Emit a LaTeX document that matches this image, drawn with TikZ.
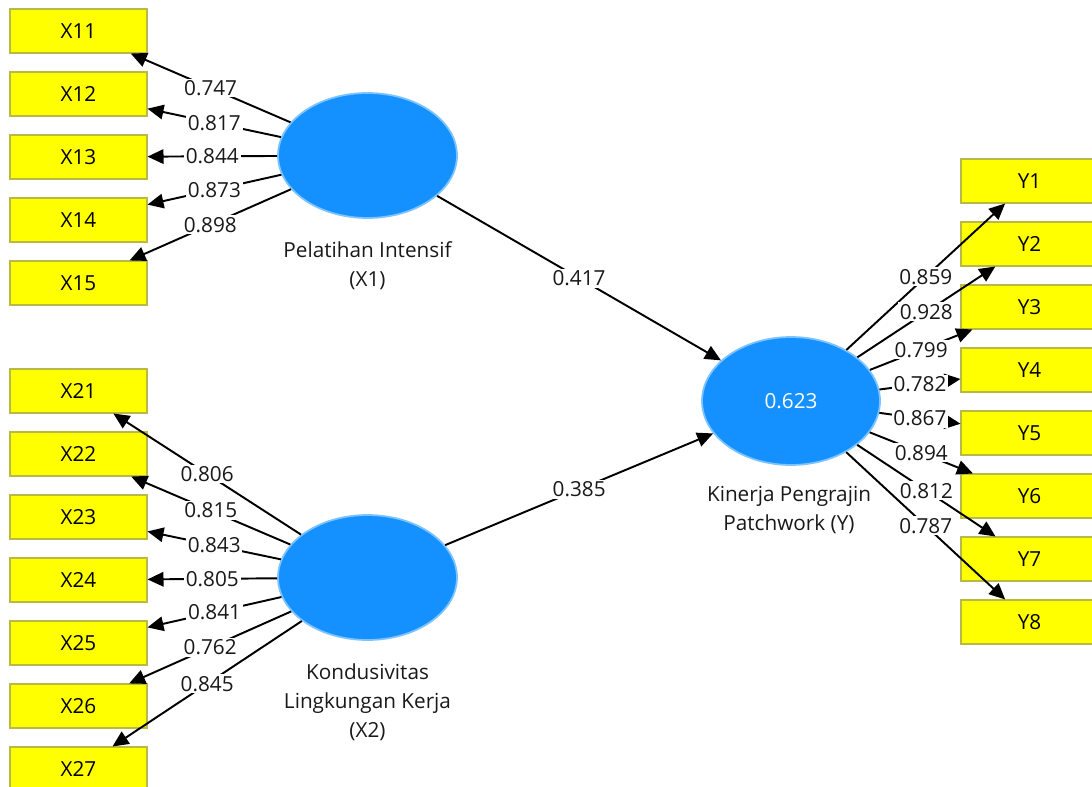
\documentclass[tikz,border=0pt]{standalone}
\usepackage{fontspec}
\setmainfont{Open Sans}
\usetikzlibrary{arrows.meta,shapes.geometric}
\definecolor{lvblue}{RGB}{20,145,255}
\definecolor{lvedge}{RGB}{125,195,255}
\definecolor{mvfill}{RGB}{255,255,0}
\definecolor{mvedge}{RGB}{185,185,70}
\newcommand\plsfont{\fontsize{11.8}{16.5}\selectfont}
\begin{document}
\begin{tikzpicture}[x=0.02cm,y=-0.02cm,
  indicator/.style={draw=mvedge, fill=mvfill, line width=0.6pt,
    minimum width=2.74cm, minimum height=0.88cm, inner sep=0pt, font=\plsfont},
  latent/.style={ellipse, draw=lvedge, fill=lvblue, line width=1pt,
    minimum width=3.58cm, minimum height=2.5cm, inner sep=0pt,
    text=white, font=\plsfont},
  caption/.style={align=center, font=\plsfont, inner sep=0pt, text=black!90},
  link/.style={draw=black, line width=1.1pt, -{Triangle[length=0.32cm,width=0.29cm]}},
  coef/.style={fill=white, inner sep=1pt, font=\plsfont, text=black!90}]
\useasboundingbox (0,0) rectangle (1092,787);
\clip (0,0) rectangle (1092,787);

% latent variables
\node[latent] (X1) at (367.5,155.5) {};
\node[latent] (X2) at (367.5,577.5) {};
\node[latent, minimum width=3.56cm, minimum height=2.56cm] (Y) at (791,401) {0.623};

\node[caption] at (367.5,266) {Pelatihan Intensif\\(X1)};
\node[caption] at (367.5,702) {Kondusivitas\\Lingkungan Kerja\\(X2)};
\node[caption] at (789,510) {Kinerja Pengrajin\\Patchwork (Y)};

% indicators of X1
\foreach \i/\yy in {1/31,2/94,3/157,4/220,5/283}
  \node[indicator] (X1\i) at (78.5,\yy) {X1\i};
% indicators of X2
\foreach \i/\yy in {1/391,2/454,3/517,4/580,5/643,6/706,7/769}
  \node[indicator] (X2\i) at (78.5,\yy) {X2\i};
% indicators of Y
\foreach \i/\yy in {1/181,2/244,3/307,4/370,5/433,6/496,7/559,8/622}
  \node[indicator] (Y\i) at (1029.5,\yy) {Y\i};

% outer loadings
\foreach \i/\v in {1/0.747,2/0.817,3/0.844,4/0.873,5/0.898}
  \draw[link] (X1) -- node[coef] {\v} (X1\i);
\foreach \i/\v in {1/0.806,2/0.815,3/0.843,4/0.805,5/0.841,6/0.762,7/0.845}
  \draw[link] (X2) -- node[coef] {\v} (X2\i);
\foreach \i/\v in {1/0.859,2/0.928,3/0.799,4/0.782,5/0.867,6/0.894,7/0.812,8/0.787}
  \draw[link] (Y) -- node[coef] {\v} (Y\i);

% path coefficients
\draw[link] (X1) -- node[coef] {0.417} (Y);
\draw[link] (X2) -- node[coef] {0.385} (Y);
\end{tikzpicture}
\end{document}
